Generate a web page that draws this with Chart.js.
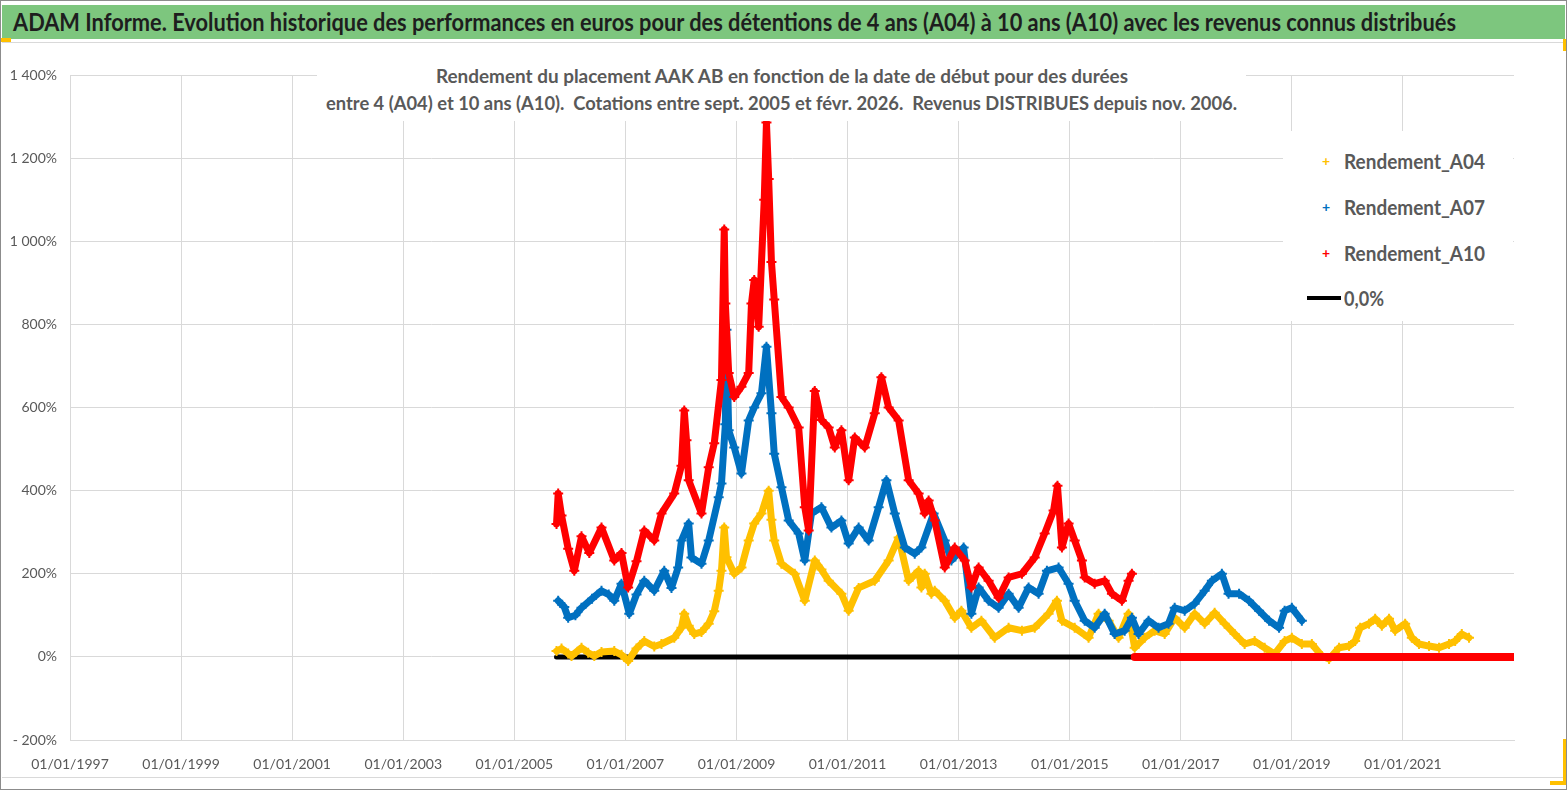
<!DOCTYPE html>
<html lang="fr">
<head>
<meta charset="utf-8">
<title>ADAM Informe - AAK AB</title>
<script src="https://cdn.jsdelivr.net/npm/chart.js@4.4.1/dist/chart.umd.min.js"></script>
<style>
    body {
        margin: 0;
        background: #ffffff;
        font-family: Lato, 'Open Sans', sans-serif;
    }
    #page {
        position: relative;
        width: 1567px;
        height: 790px;
        overflow: hidden;
        box-sizing: border-box;
        border: 1px solid #8c8c8c;
    }
    #banner {
        position: absolute;
        left: 1px; top: 4px;
        width: 1563px; height: 34px;
        background: #7dc67e;
        overflow: hidden;
    }
    #frame {
        position: absolute;
        left: 1px; top: 41px;
        width: 1561px; height: 736px;
        border-top: 1px solid #d9d9d9;
        border-bottom: 1px solid #d9d9d9;
        box-sizing: border-box;
    }
    #chartBox {
        position: absolute;
        left: 0; top: 0;
        width: 1567px; height: 790px;
    }
    #subtitle {
        position: absolute;
        left: 316px; top: 60px;
        width: 929px; height: 60px;
        background: #ffffff;
    }
    #legend {
        position: absolute;
        left: 1282px; top: 130px;
        width: 230px; height: 190px;
        background: #ffffff;
    }
    .fit {
        position: absolute;
        display: inline-block;
        white-space: nowrap;
        font-weight: bold;
    }
    .mark {
        position: absolute;
        font-size: 14px;
        font-weight: bold;
        line-height: 14px;
    }
    .bar {
        position: absolute;
        left: 24px; top: 165px;
        width: 34px; height: 4px;
        background: #000000;
    }
    .corner { position: absolute; background: #ffc000; }
</style>
</head>
<body>
<div id="page">
    <div id="frame"></div>
    <div id="chartBox"><canvas id="adamChart" width="1567" height="790"></canvas></div>
    <div id="banner">
        <span class="fit" data-w="1443" data-align="left" style="left:11px; top:2px; font-size:24px; line-height:30px; color:#1e1e1e">ADAM Informe. Evolution historique des performances en euros pour des détentions de 4 ans (A04) à 10 ans (A10) avec les revenus connus distribués</span>
    </div>
    <div id="subtitle">
        <span class="fit" data-w="692" data-align="center" style="left:117px; top:2px; font-size:19px; line-height:26px; color:#595959">Rendement du placement AAK AB en fonction de la date de début pour des durées</span>
        <span class="fit" data-w="911" data-align="center" style="left:10px; top:29px; font-size:19px; line-height:26px; color:#595959">entre 4 (A04) et 10 ans (A10).&nbsp; Cotations entre sept. 2005 et févr. 2026.&nbsp; Revenus DISTRIBUES depuis nov. 2006.</span>
    </div>
    <div id="legend">
        <span class="mark" style="left:39px; top:23px; color:#ffc000">+</span>
        <span class="fit" data-w="141" data-align="left" style="left:61px; top:16px; font-size:20px; line-height:28px; color:#595959">Rendement_A04</span>
        <span class="mark" style="left:39px; top:69px; color:#0070c0">+</span>
        <span class="fit" data-w="141" data-align="left" style="left:61px; top:62px; font-size:20px; line-height:28px; color:#595959">Rendement_A07</span>
        <span class="mark" style="left:39px; top:115px; color:#ff0000">+</span>
        <span class="fit" data-w="141" data-align="left" style="left:61px; top:108px; font-size:20px; line-height:28px; color:#595959">Rendement_A10</span>
        <span class="bar"></span>
        <span class="fit" data-w="40" data-align="left" style="left:61px; top:153px; font-size:20px; line-height:28px; color:#595959">0,0%</span>
    </div>
    <div class="corner" style="left:0; top:37px; width:10px; height:4px"></div>
    <div class="corner" style="left:1562px; top:38px; width:3px; height:12px"></div>
    <div class="corner" style="left:1562px; top:738px; width:3px; height:46px"></div>
    <div class="corner" style="left:1549px; top:780px; width:16px; height:4px"></div>
</div>

<script>
// ===================================
// Données (années décimales, rendement en %)
// ===================================

const xTickYears = [1997, 1999, 2001, 2003, 2005, 2007, 2009, 2011, 2013, 2015, 2017, 2019, 2021];
const xMin = 1997;
const xMax = 2023;
const yMin = -200;
const yMax = 1400;
const yStep = 200;

// Rendement_A04
const a04Years = [2005.76, 2005.85, 2005.97, 2006.03, 2006.21, 2006.33, 2006.44, 2006.57, 2006.80, 2006.93,
    2007.05, 2007.20, 2007.34, 2007.52, 2007.65, 2007.88, 2008.01, 2008.06, 2008.14, 2008.24,
    2008.37, 2008.50, 2008.60, 2008.68, 2008.73, 2008.78, 2008.82, 2008.96, 2009.09, 2009.22,
    2009.32, 2009.45, 2009.58, 2009.63, 2009.68, 2009.81, 2010.05, 2010.23, 2010.41, 2010.53,
    2010.66, 2010.89, 2011.02, 2011.20, 2011.49, 2011.74, 2011.92, 2012.10, 2012.28, 2012.33,
    2012.39, 2012.51, 2012.57, 2012.75, 2012.93, 2013.05, 2013.23, 2013.41, 2013.65, 2013.90,
    2014.14, 2014.37, 2014.62, 2014.77, 2014.86, 2015.09, 2015.34, 2015.52, 2015.70, 2015.88,
    2016.06, 2016.17, 2016.35, 2016.53, 2016.71, 2016.89, 2017.07, 2017.25, 2017.43, 2017.61,
    2017.79, 2017.97, 2018.15, 2018.33, 2018.51, 2018.69, 2018.87, 2019.00, 2019.18, 2019.36,
    2019.54, 2019.67, 2019.85, 2020.03, 2020.14, 2020.23, 2020.39, 2020.50, 2020.62, 2020.75,
    2020.86, 2021.04, 2021.16, 2021.29, 2021.47, 2021.65, 2021.83, 2021.94, 2022.06, 2022.19];
const a04Values = [14, 20, 8, 2, 22, 10, 2, 12, 14, 5,
    -10, 20, 38, 25, 31, 46, 70, 104, 75, 55,
    60, 80, 110, 159, 207, 311, 240, 200, 215, 280,
    321, 345, 400, 330, 280, 224, 200, 135, 232, 210,
    183, 152, 111, 166, 183, 232, 287, 183, 207, 167,
    200, 152, 159, 135, 94, 111, 70, 87, 46, 70,
    63, 70, 104, 135, 87, 70, 46, 104, 87, 46,
    104, 22, 46, 63, 55, 94, 70, 104, 80, 106,
    80, 55, 31, 38, 22, 7, 38, 46, 31, 31,
    2, -5, 22, 26, 38, 70, 80, 92, 75, 92,
    63, 80, 46, 31, 26, 22, 31, 38, 55, 46];

// Rendement_A07
const a07Years = [2005.79, 2005.90, 2005.97, 2006.10, 2006.21, 2006.40, 2006.57, 2006.70, 2006.80, 2006.93,
    2007.07, 2007.20, 2007.34, 2007.52, 2007.70, 2007.83, 2007.95, 2008.01, 2008.14, 2008.19,
    2008.37, 2008.50, 2008.68, 2008.73, 2008.80, 2008.82, 2008.86, 2008.96, 2009.09, 2009.22,
    2009.32, 2009.45, 2009.54, 2009.63, 2009.68, 2009.81, 2009.94, 2010.12, 2010.23, 2010.35,
    2010.53, 2010.71, 2010.89, 2011.02, 2011.20, 2011.38, 2011.56, 2011.70, 2011.85, 2012.03,
    2012.21, 2012.33, 2012.55, 2012.75, 2012.87, 2013.09, 2013.23, 2013.36, 2013.54, 2013.72,
    2013.90, 2014.08, 2014.26, 2014.44, 2014.59, 2014.80, 2014.98, 2015.09, 2015.27, 2015.45,
    2015.63, 2015.81, 2015.99, 2016.12, 2016.24, 2016.42, 2016.60, 2016.78, 2016.89, 2017.07,
    2017.25, 2017.43, 2017.56, 2017.74, 2017.86, 2018.05, 2018.23, 2018.41, 2018.59, 2018.77,
    2018.87, 2019.00, 2019.18];
const a07Values = [135, 120, 94, 100, 118, 140, 159, 150, 135, 176,
    104, 150, 183, 159, 207, 166, 215, 280, 321, 239,
    224, 280, 384, 417, 560, 787, 545, 504, 441, 569,
    600, 634, 746, 586, 489, 408, 328, 297, 232, 345,
    360, 311, 328, 273, 311, 280, 360, 425, 345, 263,
    248, 263, 345, 280, 232, 263, 104, 167, 135, 118,
    152, 118, 167, 152, 207, 215, 176, 135, 87, 70,
    104, 55, 63, 94, 55, 87, 70, 80, 118, 111,
    128, 159, 183, 200, 152, 152, 135, 111, 87, 70,
    111, 118, 87];

// Rendement_A10
const a10Years = [2005.76, 2005.79, 2005.85, 2005.97, 2006.08, 2006.21, 2006.35, 2006.57, 2006.80, 2006.93,
    2007.05, 2007.20, 2007.34, 2007.52, 2007.65, 2007.88, 2008.01, 2008.06, 2008.10, 2008.14,
    2008.37, 2008.50, 2008.60, 2008.73, 2008.78, 2008.80, 2008.86, 2008.96, 2009.09, 2009.22,
    2009.27, 2009.32, 2009.40, 2009.50, 2009.54, 2009.58, 2009.63, 2009.68, 2009.81, 2009.94,
    2010.12, 2010.23, 2010.30, 2010.41, 2010.53, 2010.66, 2010.77, 2010.89, 2011.02, 2011.13,
    2011.31, 2011.49, 2011.61, 2011.74, 2011.92, 2012.10, 2012.28, 2012.39, 2012.46, 2012.57,
    2012.75, 2012.93, 2013.11, 2013.23, 2013.36, 2013.54, 2013.72, 2013.90, 2014.14, 2014.37,
    2014.55, 2014.71, 2014.78, 2014.86, 2014.98, 2015.09, 2015.22, 2015.27, 2015.45, 2015.63,
    2015.76, 2015.94, 2016.06, 2016.12];
const a10Values = [320, 393, 340, 260, 207, 290, 250, 311, 232, 250,
    167, 230, 304, 280, 345, 393, 460, 593, 521, 425,
    345, 456, 514, 666, 1028, 850, 683, 625, 650, 683,
    850, 907, 794, 1100, 1286, 1150, 950, 860, 625, 600,
    552, 360, 304, 640, 570, 552, 504, 545, 425, 528,
    504, 586, 673, 600, 569, 425, 393, 345, 376, 328,
    215, 263, 232, 167, 215, 183, 142, 191, 200, 239,
    297, 352, 412, 263, 321, 280, 232, 191, 176, 183,
    152, 135, 183, 200];

// Rendement_A10 affiché à 0 après févr. 2016
const a10ZeroYears = [2016.17, 2023.0];
const a10ZeroValues = [0, 0];

// Ligne 0,0%
const zeroYears = [2005.76, 2023.0];
const zeroValues = [0, 0];

// ===================================
// Textes ajustés à la largeur du modèle
// ===================================

function fitTexts() {
    document.querySelectorAll('.fit').forEach(function(el) {
        const target = parseFloat(el.dataset.w);
        const natural = el.getBoundingClientRect().width;
        if (!natural) return;
        const k = target / natural;
        if (el.dataset.align === 'center') {
            const parentW = el.parentElement.clientWidth;
            el.style.left = ((parentW - target) / 2) + 'px';
        }
        el.style.transformOrigin = 'left top';
        el.style.transform = 'scaleX(' + k + ')';
    });
}

// ===================================
// Construction du graphique
// ===================================

function toPoints(years, values) {
    return years.map((x, i) => ({ x: x, y: values[i] }));
}

// Format "1 400%" / "- 200%"
function formatPercent(value) {
    const abs = Math.abs(value);
    let txt = String(abs);
    if (abs >= 1000) {
        txt = txt.slice(0, txt.length - 3) + ' ' + txt.slice(-3);
    }
    return (value < 0 ? '- ' : '') + txt + '%';
}

const axisFont = {
    family: "Lato, 'Open Sans', sans-serif",
    size: 14
};

function seriesStyle(color, width, order) {
    return {
        showLine: true,
        borderColor: color,
        backgroundColor: color,
        borderWidth: width,
        pointStyle: 'cross',
        pointRadius: 5,
        pointBorderWidth: 2,
        order: order
    };
}

const ctx = document.getElementById('adamChart');

new Chart(ctx, {
    type: 'scatter',
    data: {
        datasets: [
            Object.assign({ label: 'Rendement_A10', data: toPoints(a10Years, a10Values) }, seriesStyle('#ff0000', 7, 1)),
            {
                label: 'Rendement_A10 (0)',
                data: toPoints(a10ZeroYears, a10ZeroValues),
                showLine: true,
                borderColor: '#ff0000',
                borderWidth: 8,
                pointRadius: 0,
                order: 1
            },
            Object.assign({ label: 'Rendement_A07', data: toPoints(a07Years, a07Values) }, seriesStyle('#0070c0', 7, 2)),
            Object.assign({ label: 'Rendement_A04', data: toPoints(a04Years, a04Values) }, seriesStyle('#ffc000', 7, 3)),
            {
                label: '0,0%',
                data: toPoints(zeroYears, zeroValues),
                showLine: true,
                borderColor: '#000000',
                borderWidth: 5,
                pointRadius: 0,
                order: 4
            }
        ]
    },
    options: {
        responsive: false,
        animation: false,
        layout: {
            padding: { left: 0, right: 54, top: 74, bottom: 11 }
        },
        plugins: {
            legend: { display: false },
            tooltip: { enabled: false }
        },
        elements: {
            line: { tension: 0, borderJoinStyle: 'round', borderCapStyle: 'round' }
        },
        scales: {
            x: {
                type: 'linear',
                min: xMin,
                max: xMax,
                afterBuildTicks: function(scale) {
                    scale.ticks = xTickYears.map(v => ({ value: v }));
                },
                afterFit: function(scale) {
                    scale.height = 40;
                },
                grid: {
                    color: '#d9d9d9',
                    lineWidth: 1,
                    drawTicks: false
                },
                border: { color: '#d9d9d9' },
                ticks: {
                    autoSkip: false,
                    maxRotation: 0,
                    padding: 16,
                    color: '#595959',
                    font: axisFont,
                    callback: function(value) {
                        return '01/01/' + value;
                    }
                }
            },
            y: {
                min: yMin,
                max: yMax,
                afterFit: function(scale) {
                    scale.width = 69;
                },
                grid: {
                    color: '#d9d9d9',
                    lineWidth: 1,
                    drawTicks: false
                },
                border: { color: '#d9d9d9' },
                ticks: {
                    stepSize: yStep,
                    padding: 13,
                    color: '#595959',
                    font: axisFont,
                    callback: function(value) {
                        return formatPercent(value);
                    }
                }
            }
        }
    }
});

fitTexts();
</script>
</body>
</html>
